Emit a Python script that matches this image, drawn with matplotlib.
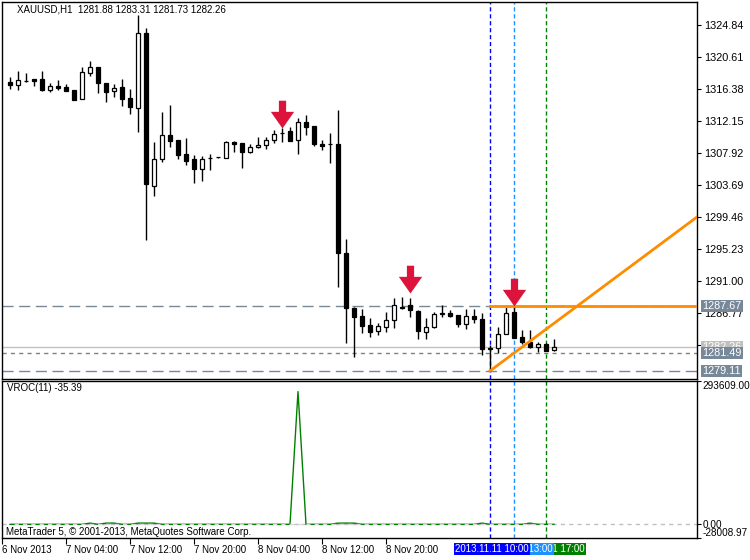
import numpy as np
import matplotlib
matplotlib.use("Agg")
import matplotlib.pyplot as plt
from matplotlib.path import Path

plt.rcParams['font.family'] = ['Liberation Sans', 'DejaVu Sans']

# XAUUSD H1 bars, first bar 6 Nov 2013 21:00, last bar 11 Nov 18:00
opens = [1317.31, 1316.87, 1317.50, 1317.66, 1317.66, 1316.25, 1316.74, 1316.60, 1316.25, 1315.10,
         1318.46, 1319.33, 1317.13, 1316.12, 1316.60, 1315.15, 1313.91, 1323.74, 1303.60, 1307.09,
         1310.26, 1309.64, 1307.79, 1307.13, 1305.84, 1307.20, 1307.35, 1307.22, 1309.41, 1309.20,
         1308.09, 1308.67, 1308.98, 1309.64, 1310.60, 1310.83, 1309.64, 1311.98, 1311.49, 1309.11,
         1309.15, 1309.11, 1294.66, 1287.39, 1286.37, 1285.18, 1284.43, 1284.96, 1285.84, 1287.60,
         1287.83, 1287.03, 1284.30, 1284.88, 1286.60, 1286.73, 1286.50, 1285.28, 1286.37, 1285.94,
         1282.15, 1282.18, 1283.95, 1286.90, 1283.56, 1282.98, 1282.23, 1282.63, 1281.88]
highs = [1317.93, 1318.76, 1318.46, 1317.70, 1318.76, 1317.13, 1317.57, 1317.00, 1316.25, 1319.33,
         1320.04, 1319.33, 1317.13, 1317.00, 1317.66, 1316.34, 1326.16, 1324.40, 1309.33, 1313.30,
         1314.23, 1309.64, 1309.86, 1307.66, 1307.52, 1307.79, 1307.40, 1309.55, 1309.45, 1309.25,
         1309.11, 1310.07, 1310.07, 1310.96, 1311.18, 1311.40, 1312.59, 1312.94, 1311.55, 1309.64,
         1310.52, 1313.60, 1296.55, 1287.50, 1287.30, 1286.07, 1285.49, 1286.94, 1288.71, 1288.84,
         1288.71, 1287.10, 1286.07, 1286.94, 1287.83, 1287.17, 1286.55, 1287.26, 1287.26, 1286.73,
         1282.54, 1284.96, 1287.52, 1287.67, 1284.52, 1284.52, 1282.98, 1282.84, 1283.31]
lows = [1316.42, 1316.25, 1317.34, 1316.82, 1316.12, 1315.98, 1316.25, 1316.12, 1314.93, 1315.10,
        1318.14, 1315.81, 1314.70, 1315.36, 1314.17, 1313.08, 1310.74, 1296.42, 1302.27, 1306.77,
        1308.75, 1307.13, 1306.33, 1303.99, 1304.26, 1305.67, 1307.30, 1307.22, 1308.01, 1305.98,
        1307.88, 1308.54, 1308.41, 1309.20, 1309.41, 1309.55, 1307.75, 1310.30, 1308.84, 1308.32,
        1306.64, 1290.17, 1282.76, 1280.99, 1284.16, 1283.64, 1283.82, 1284.30, 1284.75, 1287.30,
        1286.28, 1283.29, 1283.29, 1284.75, 1286.28, 1286.20, 1284.96, 1284.61, 1285.41, 1281.18,
        1279.11, 1281.52, 1283.95, 1283.40, 1282.67, 1282.10, 1281.57, 1281.75, 1281.73]
closes = [1316.87, 1317.53, 1317.45, 1317.44, 1316.25, 1316.74, 1316.47, 1316.12, 1314.93, 1318.59,
          1319.33, 1317.13, 1316.02, 1316.55, 1315.10, 1314.04, 1323.74, 1303.78, 1307.09, 1310.26,
          1309.55, 1307.66, 1306.90, 1305.84, 1307.13, 1307.25, 1307.35, 1309.33, 1309.07, 1308.09,
          1308.67, 1308.98, 1309.64, 1310.39, 1310.52, 1309.55, 1311.98, 1311.40, 1309.07, 1308.84,
          1309.05, 1294.66, 1287.39, 1286.28, 1285.09, 1284.30, 1285.05, 1285.84, 1287.83, 1287.39,
          1287.17, 1284.43, 1284.88, 1286.64, 1286.70, 1286.41, 1285.28, 1286.37, 1285.94, 1282.05,
          1282.05, 1283.95, 1286.73, 1283.50, 1282.98, 1282.31, 1282.63, 1281.79, 1282.26]

# VROC(11) values per bar
vroc = [0, 0, 0, 0, 0, 0, 0, 0, 0, 0,
        2500, 0, 2500, 2500, 0, 0, 2500, 2500, 2500, 0,
        0, 0, 0, 0, 0, 0, 0, 0, 0, 0,
        0, 0, 0, 0, 0, 0, 272000, 0, 0, 0,
        0, 2500, 2500, 2500, 0, 0, 0, 0, 0, 0,
        0, 0, 0, 0, 0, 0, 0, 0, 0, 2500,
        0, 0, 0, 0, 0, 2500, 0, 0, -35.39]

price_ticks = [1324.84, 1320.61, 1316.38, 1312.15, 1307.92, 1303.69, 1299.46,
               1295.23, 1291.00, 1286.77, 1282.54]
time_ticks = [-1, 7, 15, 23, 31, 39, 47]
time_labels = ["6 Nov 2013", "7 Nov 04:00", "7 Nov 12:00", "7 Nov 20:00",
               "8 Nov 04:00", "8 Nov 12:00", "8 Nov 20:00"]

arrow_bars = [34, 50, 63]
arrow_prices = [1311.2, 1289.4, 1287.7]

vline_bars = [67, 63, 60]
vline_labels = ["2013.11.11 17:00", "2013.11.11 13:00", "2013.11.11 10:00"]
vline_colors = ["#008000", "#1e90ff", "#0000ff"]

trend_bar, trend_price = 60, 1279.11
trend_slope = 0.7865  # price per bar
resist = 1287.67
bid = 1282.26
level_short = 1281.49
level_low = 1279.11

x = np.arange(len(opens))
o = np.array(opens); c = np.array(closes)
xmin, xmax = -1, 85.875

fig = plt.figure(figsize=(7.5, 5.6), dpi=100)
ax = fig.add_axes([2/750, 1-379/560, 695/750, 377/560])
ax2 = fig.add_axes([2/750, 1-538/560, 695/750, 157/560], sharex=ax)

# price panel
ax.axhline(resist, color='#778899', lw=1, ls=(0, (8, 4)), zorder=1)
ax.axhline(level_low, color='#778899', lw=1, ls=(0, (8, 4)), zorder=1)
ax.axhline(level_short, color='#808080', lw=1, ls=(0, (3, 3)), zorder=1)
ax.axhline(bid, color='#c0c0c0', lw=1, zorder=1)

for b, col in zip(vline_bars, vline_colors):
    ax.axvline(b, color=col, lw=1, ls=(0, (3, 2)), zorder=2)
    ax2.axvline(b, color=col, lw=1, ls=(0, (3, 2)), zorder=2)

ax.vlines(x, lows, highs, color='black', lw=1, zorder=3)
body_col = ['white' if cc > oo else 'black' for oo, cc in zip(o, c)]
ax.bar(x, np.maximum(np.abs(c - o), 0.02), bottom=np.minimum(o, c), width=0.6,
       color=body_col, edgecolor='black', linewidth=0.9, zorder=4)

ax.plot([trend_bar, xmax], [resist, resist], color='#ff8c00', lw=2, zorder=5)
ax.plot([trend_bar, xmax], [trend_price, trend_price + trend_slope * (xmax - trend_bar)],
        color='#ff8c00', lw=2, zorder=5)

arrow = Path([(-0.13, 1), (0.13, 1), (0.13, 0.6), (0.42, 0.6), (0, 0),
              (-0.42, 0.6), (-0.13, 0.6), (-0.13, 1)])
ax.plot(arrow_bars, arrow_prices, ls='none', marker=arrow, markersize=40,
        color='#dc143c', markeredgewidth=0, zorder=6)

ax.set_xlim(xmin, xmax)
ax.set_ylim(1278.04, 1327.88)
ax.yaxis.tick_right()
ax.set_yticks(price_ticks, labels=[f"{p:.2f}" for p in price_ticks])
ax.tick_params(axis='y', length=3, pad=2, labelsize=7.8, direction='out')
ax.tick_params(axis='x', bottom=False, labelbottom=False)

for val, fc in [(bid, '#c0c0c0'), (level_short, '#778899'),
                (level_low, '#778899'), (resist, '#778899')]:
    ax.annotate(f"{val:.2f}", xy=(1, val), xycoords=('axes fraction', 'data'),
                xytext=(5, 0), textcoords='offset pixels', ha='left', va='center',
                fontsize=7.8, color='white', annotation_clip=False, zorder=10,
                bbox=dict(boxstyle='square,pad=0.12', fc=fc, ec='none'))

fig.text(17/750, 1-9/560, "XAUUSD,H1  1281.88 1283.31 1281.73 1282.26",
         fontsize=7, va='center', ha='left')

# VROC panel
ax2.axhline(0, color='#c0c0c0', lw=1, ls=(0, (3, 3)), zorder=1)
ax2.plot(x, vroc, color='#008000', lw=1, zorder=3)
ax2.plot([x[0], x[-1]], [0, 0], color='#d8d8d8', lw=1, ls=(3, (3, 3)), zorder=4)
ax2.set_ylim(-28008.97, 293609.0)
ax2.yaxis.tick_right()
ax2.set_yticks([293609.0, 0, -28008.97], labels=["293609.00", "0.00", "-28008.97"])
ax2.tick_params(axis='y', length=3, pad=1, labelsize=7.2, direction='out')
ylab = ax2.get_yticklabels()
ylab[0].set_va('top')
ylab[2].set_va('bottom')
ax2.text(5/695, 1-7/157, "VROC(11) -35.39", transform=ax2.transAxes,
         fontsize=7, va='center', ha='left')
ax2.text(4/695, 6/157, "MetaTrader 5, \u00a9 2001-2013, MetaQuotes Software Corp.",
         transform=ax2.transAxes, fontsize=7, va='center', ha='left')

ax2.set_xticks(time_ticks, labels=time_labels)
ax2.tick_params(axis='x', length=4, pad=1, labelsize=7, direction='out')
for t in ax2.get_xticklabels():
    t.set_ha('left')

for b, lab, col in zip(vline_bars, vline_labels, vline_colors):
    ax2.annotate(lab, xy=(b, 0), xycoords=('data', 'axes fraction'),
                 xytext=(2, -11), textcoords='offset pixels', ha='center', va='center',
                 fontsize=7, color='white', annotation_clip=False,
                 bbox=dict(boxstyle='square,pad=0.15', fc=col, ec='none'))

for a in (ax, ax2):
    for s in a.spines.values():
        s.set_color('black')
        s.set_linewidth(1)

fig.savefig("out.png", dpi=100)
